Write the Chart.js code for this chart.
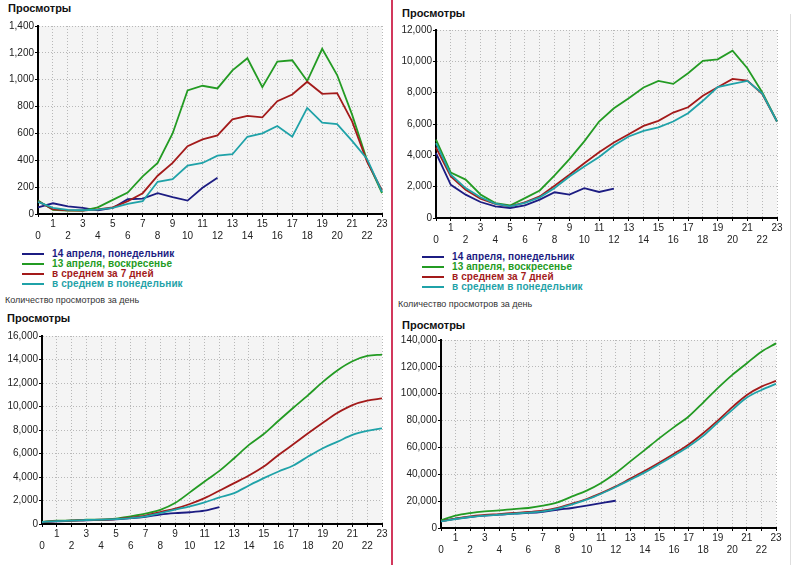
<!DOCTYPE html>
<html>
<head>
<meta charset="utf-8">
<script src="https://cdn.jsdelivr.net/npm/chart.js@4.4.0/dist/chart.umd.min.js"></script>
<style>
    body { margin: 0; width: 800px; height: 565px; background: #fff; position: relative; overflow: hidden;
           font-family: "Liberation Sans", Arial, sans-serif; }
    canvas { position: absolute; }
    .title { position: absolute; font-weight: bold; font-size: 11px; line-height: 12px; color: #111; }
    .legend { position: absolute; font-weight: bold; font-size: 10px; letter-spacing: 0.1px; }
    .legend div { position: relative; height: 10px; line-height: 10px; white-space: nowrap; padding-left: 30px; }
    .legend span { position: absolute; left: 0; top: 4px; width: 22px; height: 2px; }
    .note { position: absolute; font-size: 9px; color: #333; }
    #divider { position: absolute; left: 391px; top: 0; width: 2px; height: 565px; background: #d2385c; }
    #edge { position: absolute; left: 790px; top: 14px; width: 1px; height: 551px; background: #dedede; }
</style>
</head>
<body>
<div class="title" style="left:8px;top:2px">Просмотры</div>
<div class="title" style="left:402px;top:7px">Просмотры</div>
<div class="title" style="left:7px;top:312px">Просмотры</div>
<div class="title" style="left:402px;top:319px">Просмотры</div>

<canvas id="chartTL" width="390" height="228" style="left:0;top:18px"></canvas>
<canvas id="chartTR" width="389" height="228" style="left:396px;top:22px"></canvas>
<canvas id="chartBL" width="390" height="228" style="left:0;top:328px"></canvas>
<canvas id="chartBR" width="388" height="228" style="left:396px;top:332px"></canvas>

<div class="legend" id="legendTL" style="left:22px;top:249px"></div>
<div class="legend" id="legendTR" style="left:422px;top:252px"></div>
<div class="note" style="left:5px;top:295px">Количество просмотров за день</div>
<div class="note" style="left:398px;top:299px">Количество просмотров за день</div>

<div id="divider"></div>
<div id="edge"></div>

<script>
const hours = ['0', '1', '2', '3', '4', '5', '6', '7', '8', '9', '10', '11',
               '12', '13', '14', '15', '16', '17', '18', '19', '20', '21', '22', '23'];

const seriesNames = ['14 апреля, понедельник', '13 апреля, воскресенье', 'в среднем за 7 дней', 'в среднем в понедельник'];
const seriesColors = ['#1c1c82', '#239b23', '#a31a1a', '#1fa2a8'];

// hourly views, left site
const tlMonday = [50, 80, 57, 45, 27, 45, 110, 115, 155, 125, 100, 195, 270];
const tlSunday = [100, 30, 25, 25, 50, 105, 160, 280, 380, 600, 920, 955, 935, 1070, 1160, 945, 1135, 1145, 990, 1230, 1035, 740, 400, 155];
const tlAvgWeek = [95, 35, 27, 25, 35, 50, 95, 155, 285, 380, 505, 555, 585, 705, 730, 720, 840, 890, 985, 895, 900, 690, 390, 175];
const tlAvgMonday = [90, 45, 30, 28, 32, 45, 75, 95, 240, 260, 360, 380, 435, 445, 575, 600, 655, 575, 790, 680, 670, 545, 410, 165];

// hourly views, right site
const trMonday = [4140, 2120, 1490, 1020, 740, 640, 810, 1170, 1640, 1490, 1910, 1660, 1870];
const trSunday = [5000, 2900, 2450, 1500, 950, 800, 1270, 1760, 2720, 3760, 4890, 6160, 7000, 7650, 8330, 8750, 8560, 9240, 10030, 10130, 10680, 9560, 8030, 6160];
const trAvgWeek = [4500, 2650, 1800, 1230, 900, 740, 1000, 1380, 2060, 2760, 3500, 4200, 4820, 5350, 5880, 6200, 6730, 7070, 7800, 8350, 8880, 8770, 7920, 6160];
const trAvgMonday = [4780, 2760, 1910, 1320, 910, 740, 960, 1320, 1910, 2650, 3290, 3890, 4630, 5200, 5560, 5780, 6160, 6690, 7480, 8350, 8560, 8750, 7960, 6160];

// cumulative views, left site
const blMonday = [150, 230, 280, 320, 350, 390, 500, 610, 800, 920, 1000, 1140, 1440];
const blSunday = [170, 280, 300, 370, 380, 450, 650, 880, 1200, 1780, 2690, 3620, 4520, 5600, 6730, 7660, 8790, 9890, 10970, 12100, 13090, 13850, 14300, 14420];
const blAvgWeek = [170, 250, 280, 340, 370, 420, 540, 710, 1020, 1300, 1700, 2200, 2830, 3480, 4130, 4890, 5880, 6780, 7720, 8620, 9470, 10120, 10490, 10690];
const blAvgMonday = [170, 250, 280, 340, 370, 420, 500, 650, 930, 1220, 1500, 1840, 2260, 2630, 3280, 3900, 4470, 4980, 5740, 6450, 7010, 7580, 7920, 8140];

// cumulative views, right site
const brMonday = [5000, 6900, 8200, 9200, 9900, 10700, 11200, 12100, 13600, 14900, 16600, 18600, 20300];
const brSunday = [5700, 9200, 11150, 12400, 13100, 14100, 14900, 16600, 19100, 23500, 27800, 33500, 40900, 49600, 58200, 66900, 75100, 83000, 93400, 104100, 114000, 122700, 131300, 137500];
const brAvgWeek = [5000, 6900, 8700, 9700, 10400, 11200, 11900, 12900, 14900, 18100, 21600, 26000, 31000, 36800, 42600, 48800, 55300, 62200, 70600, 80000, 90000, 99100, 105300, 109500];
const brAvgMonday = [5000, 6700, 8200, 9200, 9900, 10700, 11400, 12400, 14400, 17600, 21100, 25500, 30500, 35900, 41400, 47600, 54000, 60700, 68600, 78500, 88000, 97100, 102800, 107300];

const plotBackground = {
    id: 'plotBackground',
    beforeDraw(chart) {
        const { ctx, chartArea: a } = chart;
        ctx.save();
        ctx.fillStyle = '#f4f4f4';
        ctx.fillRect(a.left, a.top, a.right - a.left, a.bottom - a.top);
        ctx.restore();
    }
};

function makePanel(id, monday, sunday, avgWeek, avgMonday, yMax, yStep, yWidth, smooth) {
    const ctx = document.getElementById(id).getContext('2d');
    const values = [monday, sunday, avgWeek, avgMonday];
    // draw order: averages first, monday on top
    const order = [3, 2, 1, 0];
    const datasets = order.map(i => ({
        label: seriesNames[i],
        data: values[i],
        borderColor: seriesColors[i],
        borderWidth: 1.8,
        pointRadius: 0,
        fill: false,
        tension: 0,
        cubicInterpolationMode: smooth ? 'monotone' : 'default'
    }));

    return new Chart(ctx, {
        type: 'line',
        data: { labels: hours, datasets: datasets },
        options: {
            responsive: false,
            animation: false,
            events: [],
            layout: { padding: { top: 8, right: 8, left: 0, bottom: 0 } },
            plugins: { legend: { display: false }, tooltip: { enabled: false } },
            scales: {
                x: {
                    grid: { color: '#b8b8b8', lineWidth: 1, tickLength: 3, tickColor: '#000', tickWidth: 1, tickBorderDash: [] },
                    border: { color: '#000', width: 2, dash: [1, 2] },
                    ticks: {
                        autoSkip: false,
                        maxRotation: 0,
                        padding: 1,
                        color: '#222',
                        font: { family: 'Liberation Sans', size: 10 },
                        callback: function(value, index) {
                            return index % 2 ? hours[index] : ['', hours[index]];
                        }
                    },
                    afterFit: function(scale) { scale.height = 32; }
                },
                y: {
                    min: 0,
                    max: yMax,
                    grid: { color: '#b8b8b8', lineWidth: 1, tickLength: 3, tickColor: '#000', tickWidth: 1, tickBorderDash: [] },
                    border: { color: '#000', width: 2, dash: [1, 2] },
                    ticks: {
                        stepSize: yStep,
                        padding: 1,
                        color: '#222',
                        font: { family: 'Liberation Sans', size: 10 },
                        callback: function(value) {
                            return value.toLocaleString('en-US');
                        }
                    },
                    afterFit: function(scale) { scale.width = yWidth; }
                }
            }
        },
        plugins: [plotBackground]
    });
}

function buildLegend(id) {
    const box = document.getElementById(id);
    seriesNames.forEach((name, i) => {
        const row = document.createElement('div');
        row.style.color = seriesColors[i];
        row.innerHTML = `<span style="background:${seriesColors[i]}"></span>${name}`;
        box.appendChild(row);
    });
}

makePanel('chartTL', tlMonday, tlSunday, tlAvgWeek, tlAvgMonday, 1400, 200, 38, false);
makePanel('chartTR', trMonday, trSunday, trAvgWeek, trAvgMonday, 12000, 2000, 40, false);
makePanel('chartBL', blMonday, blSunday, blAvgWeek, blAvgMonday, 16000, 2000, 42, true);
makePanel('chartBR', brMonday, brSunday, brAvgWeek, brAvgMonday, 140000, 20000, 45, true);

buildLegend('legendTL');
buildLegend('legendTR');
</script>
</body>
</html>
